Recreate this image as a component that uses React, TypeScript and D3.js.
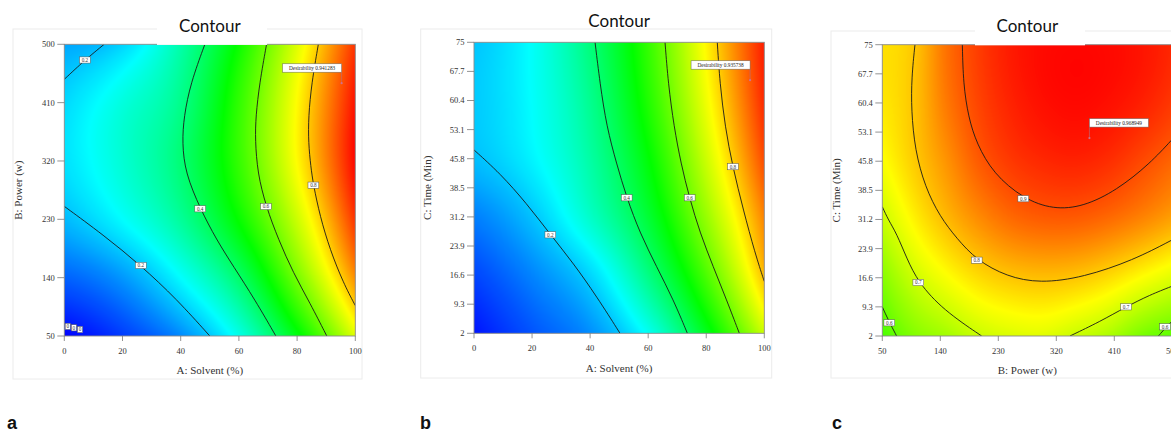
import React, { useMemo } from 'react';
import * as d3 from 'd3';

// ---------- shared colour ramp (desirability) ----------
const colorStops = [0, 0.26, 0.5, 0.75, 0.975];
const colorRange = ['#0000ff', '#00ffff', '#00ff00', '#ffff00', '#ff0000'];

// ---------- Panel a: A Solvent (%) x B Power (w) ----------
const aGridX = [0, 20, 40, 60, 80, 100];
const aGridY = [50, 140, 230, 320, 410, 500];
// rows: y = 50 ... 500, columns: x = 0 ... 100
const aValues = [
  [0.0, 0.06, 0.14, 0.28, 0.483, 0.72],
  [0.1, 0.155, 0.26, 0.4, 0.615, 0.85],
  [0.19, 0.26, 0.355, 0.505, 0.7, 0.93],
  [0.23, 0.3, 0.39, 0.551, 0.752, 0.97],
  [0.22, 0.29, 0.37, 0.547, 0.752, 0.96],
  [0.17, 0.215, 0.34, 0.51, 0.718, 0.93],
];
const aContours = [
  { level: 0.2, pts: [[0, 446], [7.1, 475.8], [13.7, 500]] },
  { level: 0.2, pts: [[0, 250], [13.4, 206], [26.3, 158.8], [38.6, 107], [50, 50]] },
  { level: 0.4, pts: [[48.3, 500], [43.4, 440], [41.1, 388.7], [40.5, 347.6], [41.6, 301.4], [46.7, 246.4], [52.3, 198.6], [58.1, 157.5], [65.5, 106.1], [72.7, 50]] },
  { level: 0.6, pts: [[69.5, 500], [67.1, 440], [65.8, 388.7], [65.6, 352.8], [66.4, 301.4], [69.3, 250.1], [73.6, 198.7], [78.7, 147.3], [84.4, 101.1], [90.2, 50]] },
  { level: 0.8, pts: [[87.3, 500], [85.0, 440], [83.9, 388.7], [83.9, 347.6], [84.7, 311.6], [85.6, 282.9], [87.9, 234.6], [91.3, 183.2], [95.9, 131.8], [100, 96.9]] },
];
const aXTicks = [0, 20, 40, 60, 80, 100];
const aYTicks = [50, 140, 230, 320, 410, 500];
const aLabels = [
  { x: 7.1, y: 475.8, t: '0.2' },
  { x: 26.3, y: 158.8, t: '0.2' },
  { x: 46.7, y: 246.2, t: '0.4' },
  { x: 69.3, y: 249.7, t: '0.6' },
  { x: 85.6, y: 282.7, t: '0.8' },
  { x: 1.2, y: 64.8, t: '0' },
  { x: 3.3, y: 62.6, t: '0' },
  { x: 5.4, y: 60.0, t: '0' },
];
const aOptimum = { x: 95.3, y: 440, text: 'Desirability 0.941283' };

// ---------- Panel b: A Solvent (%) x C Time (Min) ----------
const bGridX = [0, 20, 40, 60, 80, 100];
const bGridY = [2, 16.6, 31.2, 45.8, 60.4, 75];
const bValues = [
  [0.02, 0.085, 0.145, 0.27, 0.472, 0.7],
  [0.07, 0.135, 0.218, 0.376, 0.574, 0.81],
  [0.13, 0.198, 0.31, 0.45, 0.648, 0.86],
  [0.195, 0.25, 0.345, 0.495, 0.7, 0.91],
  [0.207, 0.262, 0.365, 0.531, 0.736, 0.94],
  [0.202, 0.265, 0.385, 0.551, 0.757, 0.95],
];
const bContours = [
  { level: 0.2, pts: [[0, 48.0], [9.0, 42.1], [18.1, 34.6], [26.4, 26.7], [34.2, 19.6], [42.3, 11.2], [50.3, 2]] },
  { level: 0.4, pts: [[41.7, 75], [43.4, 64.7], [45.7, 53.8], [49.1, 44.6], [52.6, 36.0], [57.2, 27.1], [62.9, 18.7], [68.7, 10.4], [73.5, 2]] },
  { level: 0.6, pts: [[65.8, 75], [66.9, 64.7], [68.9, 53.8], [71.3, 44.6], [74.2, 36.0], [77.9, 27.1], [82.4, 18.7], [87.0, 10.4], [91.4, 2]] },
  { level: 0.8, pts: [[83.8, 75], [84.7, 64.7], [86.5, 53.8], [89.1, 43.8], [92.8, 32.9], [96.8, 22.1], [100, 15.0]] },
];
const bXTicks = [0, 20, 40, 60, 80, 100];
const bYTicks = [2, 9.3, 16.6, 23.9, 31.2, 38.5, 45.8, 53.1, 60.4, 67.7, 75];
const bLabels = [
  { x: 26.3, y: 26.7, t: '0.2' },
  { x: 52.6, y: 36.0, t: '0.4' },
  { x: 74.3, y: 36.0, t: '0.6' },
  { x: 89.2, y: 43.8, t: '0.8' },
];
const bOptimum = { x: 95.1, y: 65.5, text: 'Desirability 0.935738' };

// ---------- Panel c: B Power (w) x C Time (Min) ----------
const cGridX = [50, 100, 150, 200, 250, 300, 350, 400, 450, 500];
const cGridY = [2, 16.6, 31.2, 45.8, 60.4, 75];
const cValues = [
  [0.57, 0.628, 0.66, 0.697, 0.715, 0.72, 0.697, 0.67, 0.62, 0.59],
  [0.63, 0.7, 0.745, 0.78, 0.8, 0.807, 0.8, 0.78, 0.75, 0.72],
  [0.695, 0.76, 0.81, 0.85, 0.88, 0.893, 0.893, 0.88, 0.858, 0.83],
  [0.745, 0.795, 0.845, 0.895, 0.925, 0.94, 0.945, 0.935, 0.912, 0.885],
  [0.77, 0.803, 0.868, 0.915, 0.945, 0.962, 0.968, 0.962, 0.948, 0.925],
  [0.778, 0.8, 0.875, 0.922, 0.952, 0.966, 0.97, 0.967, 0.958, 0.94],
];
const cContours = [
  { level: 0.9, pts: [[174.2, 75], [175.7, 65.2], [183.5, 56.9], [196.4, 50.2], [222.3, 42.7], [268.8, 36.4], [315.4, 33.7], [361.9, 34.4], [413.6, 38.5], [465.3, 45.2], [500, 51.3]] },
  { level: 0.8, pts: [[100.7, 75], [95.5, 66.9], [95.0, 58.6], [100.7, 48.6], [116.2, 39.4], [139.5, 31.9], [165.3, 26.5], [196.4, 21.0], [243.0, 16.9], [294.7, 15.2], [362.0, 16.7], [439.5, 21.0], [500, 26.1]] },
  { level: 0.7, pts: [[50, 34.4], [59.3, 31.1], [72.2, 27.7], [87.8, 21.5], [105.9, 15.4], [144.7, 8.5], [204.2, 2]] },
  { level: 0.7, pts: [[341.2, 2], [387.7, 5.6], [428.1, 9.3], [465.3, 12.3], [500, 14.5]] },
  { level: 0.6, pts: [[50, 9.3], [59.3, 6.0], [72.2, 2]] },
  { level: 0.6, pts: [[478.4, 2], [488.8, 3.9], [500, 5.8]] },
];
const cXTicks = [50, 140, 230, 320, 410, 500];
const cYTicks = [2, 9.3, 16.6, 23.9, 31.2, 38.5, 45.8, 53.1, 60.4, 67.7, 75];
const cLabels = [
  { x: 268.8, y: 36.4, t: '0.9' },
  { x: 196.5, y: 21.0, t: '0.8' },
  { x: 105.9, y: 15.4, t: '0.7' },
  { x: 428.2, y: 9.3, t: '0.7' },
  { x: 60.9, y: 5.3, t: '0.6' },
  { x: 488.8, y: 4.3, t: '0.6' },
];
const cOptimum = { x: 371.4, y: 51.6, text: 'Desirability 0.968949' };

// ---------- interpolation helpers (smooth rendering of the value grid) ----------
function ext(vals: number[], i: number): number {
  const n = vals.length;
  if (i < 0) return 3 * vals[0] - 3 * vals[1] + vals[2];
  if (i >= n) return 3 * vals[n - 1] - 3 * vals[n - 2] + vals[n - 3];
  return vals[i];
}
function interp1(vals: number[], t: number): number {
  const n = vals.length;
  let i = Math.floor(t);
  if (i > n - 2) i = n - 2;
  if (i < 0) i = 0;
  const f = t - i;
  const p0 = ext(vals, i - 1), p1 = vals[i], p2 = vals[i + 1], p3 = ext(vals, i + 2);
  return 0.5 * (2 * p1 + (-p0 + p2) * f + (2 * p0 - 5 * p1 + 4 * p2 - p3) * f * f + (-p0 + 3 * p1 - 3 * p2 + p3) * f * f * f);
}
function sample(grid: number[][], u: number, v: number): number {
  const col = grid.map((row) => interp1(row, u));
  const r = interp1(col, v);
  return Math.max(0, Math.min(1, r));
}

const colorScale = d3.scaleLinear<string>().domain(colorStops).range(colorRange).interpolate(d3.interpolateRgb).clamp(true);
const LUT = d3.range(0, 1001).map((k) => d3.rgb(colorScale(k / 1000)));

type Lbl = { x: number; y: number; t: string };
type Opt = { x: number; y: number; text: string };
type Ctr = { level: number; pts: number[][] };
type PanelProps = {
  id: string;
  gridX: number[]; gridY: number[]; values: number[][]; contours: Ctr[];
  xTicks: number[]; yTicks: number[]; labels: Lbl[]; optimum: Opt; optSide: 'left' | 'right';
  left: number; top: number; width: number; height: number;
  title: string; titleY: number; titleBox: [number, number] | null;
  xTitle: string; yTitle: string; xTitleY: number; yTitleX: number;
  tag: string; tagX: number; frame: [number, number, number, number];
};

function Panel(p: PanelProps) {
  const x = d3.scaleLinear().domain([p.gridX[0], p.gridX[p.gridX.length - 1]]).range([p.left, p.left + p.width]);
  const y = d3.scaleLinear().domain([p.gridY[0], p.gridY[p.gridY.length - 1]]).range([p.top + p.height, p.top]);
  const gx = p.gridX.length, gy = p.gridY.length;

  const imgUrl = useMemo(() => {
    const W = Math.round(p.width), H = Math.round(p.height);
    const cv = document.createElement('canvas');
    cv.width = W; cv.height = H;
    const ctx = cv.getContext('2d');
    if (!ctx) return '';
    const img = ctx.createImageData(W, H);
    for (let py = 0; py < H; py++) {
      const v = (1 - (py + 0.5) / H) * (gy - 1);
      for (let px = 0; px < W; px++) {
        const u = ((px + 0.5) / W) * (gx - 1);
        const val = sample(p.values, u, v);
        const c = LUT[Math.round(val * 1000)];
        const k = (py * W + px) * 4;
        img.data[k] = c.r; img.data[k + 1] = c.g; img.data[k + 2] = c.b; img.data[k + 3] = 255;
      }
    }
    ctx.putImageData(img, 0, 0);
    return cv.toDataURL();
  }, [p.values]);

  const line = d3.line<number[]>().x((d) => x(d[0])).y((d) => y(d[1])).curve(d3.curveBasis);

  const ox = x(p.optimum.x), oy = y(p.optimum.y);
  const boxW = 59, boxH = 8.4;
  const boxX = p.optSide === 'right' ? ox - boxW : ox;
  const boxY = oy - 11 - boxH;
  const serif = "'Liberation Serif', 'DejaVu Serif', serif";
  const [fx0, fy0, fx1, fy1] = p.frame;
  const clipId = 'clip-' + p.id;

  return (
    <g>
      <defs>
        <clipPath id={clipId}>
          <rect x={p.left} y={p.top} width={p.width} height={p.height} />
        </clipPath>
      </defs>
      <rect x={fx0} y={fy0} width={fx1 - fx0} height={fy1 - fy0} fill="none" stroke="#ececec" strokeWidth={1} />
      <image href={imgUrl} x={p.left} y={p.top} width={p.width} height={p.height} preserveAspectRatio="none" />
      <g clipPath={`url(#${clipId})`}>
        {p.contours.map((c, i) => (
          <path key={i} d={line(c.pts) || ''} fill="none" stroke="#1a1a1a" strokeWidth={0.9} />
        ))}
      </g>
      <rect x={p.left} y={p.top} width={p.width} height={p.height} fill="none" stroke="#8a8a8a" strokeWidth={0.9} />
      {p.titleBox && (
        <rect x={p.titleBox[0]} y={8} width={p.titleBox[1] - p.titleBox[0]} height={p.top + 0.6 - 8} fill="#ffffff" />
      )}
      <text x={p.left + p.width / 2} y={p.titleY} textAnchor="middle" fontFamily="Lato, 'Open Sans', sans-serif" fontSize={17} fill="#111">{p.title}</text>
      {/* contour labels */}
      {p.labels.map((l, i) => {
        const w = 2.4 + 2.8 * l.t.length, h = 6.2;
        return (
          <g key={i}>
            <rect x={x(l.x) - w / 2} y={y(l.y) - h / 2} width={w} height={h} fill="#ffffff" stroke="#555" strokeWidth={0.5} />
            <text x={x(l.x)} y={y(l.y) + 1.9} textAnchor="middle" fontFamily={serif} fontSize={5.2} fill="#333">{l.t}</text>
          </g>
        );
      })}
      {/* optimum */}
      <line x1={ox} x2={ox} y1={boxY + boxH} y2={oy} stroke="#b07080" strokeWidth={0.6} />
      <circle cx={ox} cy={oy} r={1.1} fill="#d07090" />
      <rect x={boxX} y={boxY} width={boxW} height={boxH} fill="#ffffff" stroke="#666" strokeWidth={0.5} />
      <text x={boxX + boxW / 2} y={boxY + boxH / 2 + 1.9} textAnchor="middle" fontFamily={serif} fontSize={5.3} fill="#222">{p.optimum.text}</text>
      {/* y axis */}
      {p.yTicks.map((t) => (
        <g key={'y' + t}>
          <line x1={p.left - 7} x2={p.left} y1={y(t)} y2={y(t)} stroke="#777" strokeWidth={0.8} />
          <text x={p.left - 9.5} y={y(t) + 2.9} textAnchor="end" fontFamily={serif} fontSize={8.5} fill="#333">{String(t)}</text>
        </g>
      ))}
      {/* x axis */}
      {p.xTicks.map((t) => (
        <g key={'x' + t}>
          <line x1={x(t)} x2={x(t)} y1={p.top + p.height} y2={p.top + p.height + 5} stroke="#777" strokeWidth={0.8} />
          <text x={x(t)} y={p.top + p.height + 18} textAnchor="middle" fontFamily={serif} fontSize={8.5} fill="#333">{String(t)}</text>
        </g>
      ))}
      <text x={p.left + p.width / 2} y={p.xTitleY} textAnchor="middle" fontFamily={serif} fontSize={11} fill="#333">{p.xTitle}</text>
      <text transform={`translate(${p.yTitleX},${p.top + p.height / 2}) rotate(-90)`} textAnchor="middle" fontFamily={serif} fontSize={11} fill="#333">{p.yTitle}</text>
      <text x={p.tagX} y={429} fontFamily="'Liberation Sans', Arial, sans-serif" fontWeight="bold" fontSize={18} fill="#111">{p.tag}</text>
    </g>
  );
}

export default function App() {
  return (
    <svg width={1171} height={433} style={{ position: 'absolute', left: 0, top: 0, background: '#ffffff' }}>
      <rect x={0} y={0} width={1171} height={433} fill="#ffffff" />
      <Panel id="a" gridX={aGridX} gridY={aGridY} values={aValues} contours={aContours} xTicks={aXTicks} yTicks={aYTicks}
        labels={aLabels} optimum={aOptimum} optSide="right"
        left={64.3} top={44.3} width={291} height={291.7}
        title="Contour" titleY={31.5} titleBox={[157, 267]}
        xTitle="A: Solvent (%)" yTitle="B: Power (w)" xTitleY={374} yTitleX={21.5}
        tag="a" tagX={7} frame={[13, 29, 362, 379]} />
      <Panel id="b" gridX={bGridX} gridY={bGridY} values={bValues} contours={bContours} xTicks={bXTicks} yTicks={bYTicks}
        labels={bLabels} optimum={bOptimum} optSide="right"
        left={474} top={42.3} width={290.3} height={291}
        title="Contour" titleY={26.5} titleBox={null}
        xTitle="A: Solvent (%)" yTitle="C: Time (Min)" xTitleY={372} yTitleX={430.5}
        tag="b" tagX={420} frame={[420.7, 29, 771.7, 378]} />
      <Panel id="c" gridX={cGridX} gridY={cGridY} values={cValues} contours={cContours} xTicks={cXTicks} yTicks={cYTicks}
        labels={cLabels} optimum={cOptimum} optSide="left"
        left={882.3} top={44.7} width={290} height={291.3}
        title="Contour" titleY={31.5} titleBox={[975, 1085]}
        xTitle="B: Power (w)" yTitle="C: Time (Min)" xTitleY={374} yTitleX={839.5}
        tag="c" tagX={832} frame={[831, 31, 1180, 378]} />
    </svg>
  );
}
